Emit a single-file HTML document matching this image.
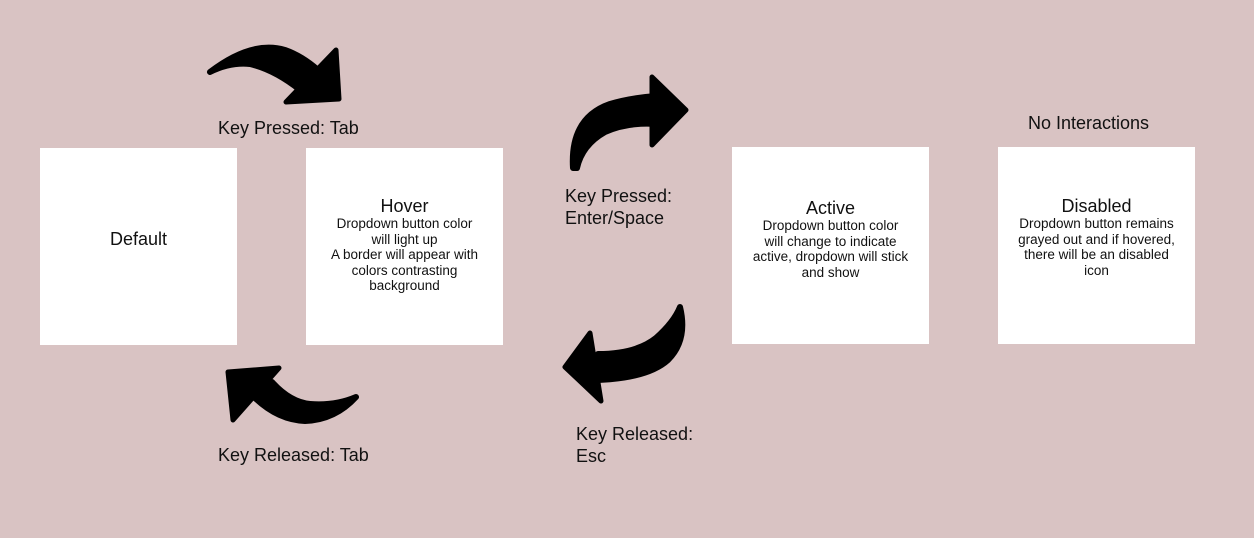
<!DOCTYPE html>
<html><head><meta charset="utf-8"><style>
html,body{margin:0;padding:0}
body{width:1254px;height:538px;background:#d9c3c3;position:relative;overflow:hidden;font-family:"Liberation Sans",sans-serif;color:#111}
.box{position:absolute;background:#fff;width:197px;height:197px}
.t{position:absolute;text-align:center;white-space:nowrap}
.ti{font-size:18px;line-height:19px}
.bd{font-size:13.5px;line-height:15.5px}
.lb{position:absolute;font-size:18px;line-height:22px;white-space:nowrap}
svg{position:absolute;left:0;top:0}
</style></head><body>
<div class="box" style="left:40px;top:148px"></div>
<div class="box" style="left:306px;top:148px"></div>
<div class="box" style="left:732px;top:147px"></div>
<div class="box" style="left:998px;top:147px"></div>

<div class="t ti" style="left:40px;width:197px;top:230px">Default</div>
<div class="t" style="left:306px;width:197px;top:197px"><div class="ti">Hover</div><div class="bd">Dropdown button color<br>will light up<br>A border will appear with<br>colors contrasting<br>background</div></div>
<div class="t" style="left:732px;width:197px;top:199px"><div class="ti">Active</div><div class="bd">Dropdown button color<br>will change to indicate<br>active, dropdown will stick<br>and show</div></div>
<div class="t" style="left:998px;width:197px;top:197px"><div class="ti">Disabled</div><div class="bd">Dropdown button remains<br>grayed out and if hovered,<br>there will be an disabled<br>icon</div></div>

<div class="lb" style="left:218px;top:117px">Key Pressed: Tab</div>
<div class="lb" style="left:1028px;top:112px">No Interactions</div>
<div class="lb" style="left:565px;top:185px">Key Pressed:<br>Enter/Space</div>
<div class="lb" style="left:576px;top:423px">Key Released:<br>Esc</div>
<div class="lb" style="left:218px;top:444px">Key Released: Tab</div>

<svg width="1254" height="538" viewBox="0 0 1254 538">
<g fill="#000" stroke="#000" stroke-linejoin="round" stroke-linecap="round">
<path d="M210 72 Q252 40 285 50 Q302 56 318 70 L300 90 Q275 70 250 64 Q230 62 210 72 Z" stroke-width="6"/>
<path d="M336 50 L339 99 L286 102 Z" stroke-width="5"/>
<path d="M573 168 Q570 118 610 104 Q630 98 656 96 L656 124 Q628 122 605 132 Q582 145 577 168 Z" stroke-width="6"/>
<path d="M652 77 L686 110 L652 145 Z" stroke-width="5"/>
<path d="M680 307 Q688 340 668 360 Q648 378 598 380 L598 354 Q636 354 656 338 Q674 322 680 307 Z" stroke-width="6"/>
<path d="M590 333 L565 367 L601 401 Z" stroke-width="5"/>
<path d="M356 397 Q335 420 305 421 Q278 420 255 398 L272 382 Q290 402 310 404 Q335 406 356 397 Z" stroke-width="6"/>
<path d="M228 372 L279 368 L233 420 Z" stroke-width="5"/>
</g>
</svg>
</body></html>
